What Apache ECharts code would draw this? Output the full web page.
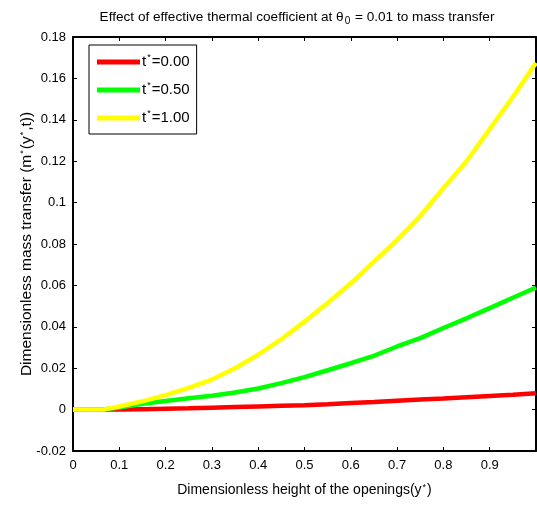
<!DOCTYPE html>
<html>
<head>
<meta charset="utf-8">
<script src="https://cdn.jsdelivr.net/npm/echarts@6/dist/echarts.min.js"></script>
<style>
  html, body { margin: 0; padding: 0; background: #fff; }
  #chart { width: 537px; height: 505px; }
</style>
</head>
<body>
<div id="chart"></div>
<script>
// y* positions shared by all curves
const xs = [0, 0.05, 0.065, 0.1, 0.15, 0.2, 0.25, 0.3, 0.35, 0.4, 0.45, 0.5,
  0.55, 0.6, 0.65, 0.7, 0.75, 0.8, 0.85, 0.9, 0.95, 1.0];

// m*(y*,t)
const mT000 = [0, 0, 0, 0, 0.0002, 0.0004, 0.0006, 0.0009, 0.0012, 0.0015, 0.0018, 0.0021,
  0.0026, 0.0032, 0.0037, 0.0043, 0.0049, 0.0054, 0.0060, 0.0066, 0.0072, 0.0079];
const mT050 = [0, 0, 0, 0.0010, 0.0028, 0.0042, 0.0055, 0.0067, 0.0083, 0.0102, 0.0128, 0.0157,
  0.0190, 0.0224, 0.0260, 0.0305, 0.0345, 0.0394, 0.0441, 0.0490, 0.0540, 0.0590];
const mT100 = [0, 0, 0, 0.0015, 0.0040, 0.0070, 0.0105, 0.0145, 0.0200, 0.0265, 0.0340, 0.0425,
  0.0515, 0.0610, 0.0715, 0.0820, 0.0935, 0.1070, 0.1200, 0.1355, 0.1510, 0.1675];

const seriesNames = ["t*=0.00", "t*=0.50", "t*=1.00"];
const seriesValues = [mT000, mT050, mT100];
const seriesColors = ["#ff0000", "#00ff00", "#ffff00"];

const font = "Liberation Sans, Arial, Helvetica, sans-serif";
const sup = { fontSize: 9, verticalAlign: "top", fontFamily: font, color: "#000", padding: [0, 1, 0, 1] };

const chart = echarts.init(document.getElementById("chart"));

const pairs = (ys) => xs.map((x, i) => [x, ys[i]]);

const axisCommon = {
  type: "value",
  axisLine: { show: true, onZero: false, lineStyle: { color: "#000", width: 2 } },
  axisTick: { show: true, inside: true, length: 4, lineStyle: { color: "#000", width: 1 } },
  splitLine: { show: false },
};

const option = {
  animation: false,
  backgroundColor: "#fff",
  title: {
    text: "Effect of effective thermal coefficient at {th|θ}{sub|0} = 0.01 to mass transfer",
    left: 292,
    textAlign: "center",
    top: 3,
    textStyle: {
      fontFamily: font,
      fontSize: 13.6,
      fontWeight: "normal",
      color: "#000",
      rich: {
        th: { fontFamily: font, fontSize: 13.6, color: "#000" },
        sub: { fontFamily: font, fontSize: 10, color: "#000", verticalAlign: "bottom", padding: [8, 1, 0, 1] },
      },
    },
  },
  legend: {
    orient: "vertical",
    left: 89,
    top: 45,
    padding: [8, 7, 7, 8],
    borderColor: "#000",
    borderWidth: 1,
    itemWidth: 43,
    itemHeight: 5,
    itemGap: 10,
    icon: "rect",
    data: seriesNames,
    formatter: (name) => "t{s|*}" + name.slice(2),
    textStyle: {
      fontFamily: font,
      fontSize: 15,
      lineHeight: 18,
      color: "#000",
      padding: [0, 0, 0, -3],
      rich: { s: sup },
    },
  },
  grid: { left: 73, right: 1, top: 37, bottom: 54 },
  xAxis: [
    {
      ...axisCommon,
      position: "bottom",
      min: 0,
      max: 1,
      interval: 0.1,
      name: "Dimensionless height of the openings(y{s|*})",
      nameLocation: "middle",
      nameGap: 32,
      nameTextStyle: { fontFamily: font, fontSize: 14, color: "#000", rich: { s: sup } },
      axisLabel: { fontFamily: font, fontSize: 13, color: "#000", margin: 8, showMaxLabel: false },
    },
    {
      ...axisCommon,
      position: "top",
      min: 0,
      max: 1,
      interval: 0.1,
      axisLabel: { show: false },
    },
  ],
  yAxis: [
    {
      ...axisCommon,
      position: "left",
      min: -0.02,
      max: 0.18,
      interval: 0.02,
      name: "Dimensionless mass transfer (m{s|*}(y{s|*},t))",
      nameLocation: "middle",
      nameGap: 38,
      nameMoveOverlap: false,
      nameTextStyle: { fontFamily: font, fontSize: 15.5, color: "#000", rich: { s: sup } },
      axisLabel: { fontFamily: font, fontSize: 13, color: "#000", margin: 7 },
    },
    {
      ...axisCommon,
      position: "right",
      min: -0.02,
      max: 0.18,
      interval: 0.02,
      axisLabel: { show: false },
    },
  ],
  series: seriesNames.map((name, i) => ({
    name: name,
    type: "line",
    data: pairs(seriesValues[i]),
    showSymbol: false,
    smooth: false,
    color: seriesColors[i],
    lineStyle: { color: seriesColors[i], width: 4.5 },
    z: 2 + i,
  })),
};

chart.setOption(option);
</script>
</body>
</html>
